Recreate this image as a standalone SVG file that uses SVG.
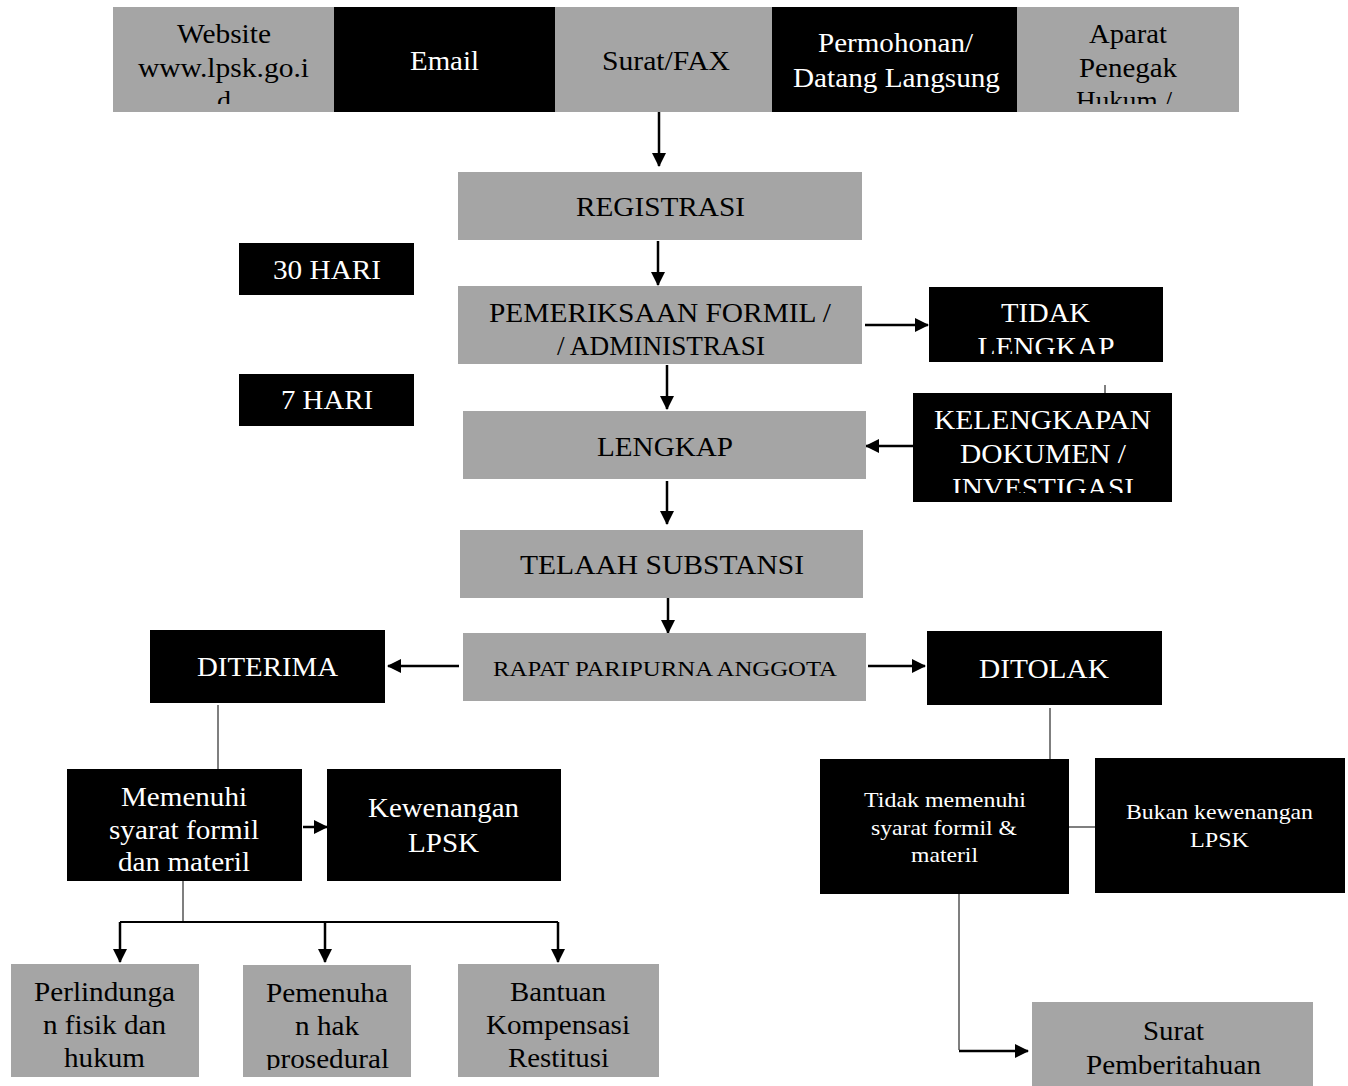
<svg xmlns="http://www.w3.org/2000/svg" width="1348" height="1086" viewBox="0 0 1348 1086">
<style>
text{font-family:"Liberation Serif","Times New Roman",serif;font-size:28px;text-anchor:middle}
.g{fill:#a5a5a5}
.b{fill:#000}
.tb{fill:#000}
.tw{fill:#fff}
.s{font-size:22px}
.xs{font-size:22px}
.arr{stroke:#000;stroke-width:2.5;fill:none}
.ln{stroke:#555;stroke-width:1.5;fill:none}
</style>
<defs>
<marker id="ahl" markerWidth="14" markerHeight="14" refX="13" refY="7" orient="auto" markerUnits="userSpaceOnUse" viewBox="0 0 14 14">
<path d="M0,0 L14,7 L0,14 z" fill="#000"/>
</marker>
<clipPath id="c1"><rect x="113" y="7" width="221" height="97"/></clipPath>
<clipPath id="c5"><rect x="1017" y="7" width="222" height="97"/></clipPath>
<clipPath id="ct"><rect x="929" y="287" width="234" height="67"/></clipPath>
<clipPath id="ck"><rect x="913" y="393" width="259" height="100"/></clipPath>
<clipPath id="cp"><rect x="243" y="965" width="168" height="105"/></clipPath>
</defs>
<g id="connectors">
<line class="arr" x1="659" y1="112" x2="659" y2="166" marker-end="url(#ahl)"/>
<line class="arr" x1="658" y1="241" x2="658" y2="285" marker-end="url(#ahl)"/>
<line class="arr" x1="865" y1="325" x2="928" y2="325" marker-end="url(#ahl)"/>
<line class="ln" x1="1105" y1="385" x2="1105" y2="393"/>
<line class="arr" x1="913" y1="446" x2="866" y2="446" marker-end="url(#ahl)"/>
<line class="arr" x1="667" y1="365" x2="667" y2="409" marker-end="url(#ahl)"/>
<line class="arr" x1="667" y1="481" x2="667" y2="524" marker-end="url(#ahl)"/>
<line class="arr" x1="668" y1="598" x2="668" y2="633" marker-end="url(#ahl)"/>
<line class="arr" x1="459" y1="666" x2="388" y2="666" marker-end="url(#ahl)"/>
<line class="arr" x1="868" y1="666" x2="925" y2="666" marker-end="url(#ahl)"/>
<line class="ln" x1="218" y1="705" x2="218" y2="769"/>
<line class="arr" x1="303" y1="827" x2="327" y2="827" marker-end="url(#ahl)"/>
<polyline class="ln" points="183,881 183,922"/>
<line class="arr" x1="120" y1="922" x2="558" y2="922" style="stroke-width:2"/>
<line class="arr" x1="120" y1="922" x2="120" y2="962" marker-end="url(#ahl)"/>
<line class="arr" x1="325" y1="922" x2="325" y2="962" marker-end="url(#ahl)"/>
<line class="arr" x1="558" y1="922" x2="558" y2="962" marker-end="url(#ahl)"/>
<line class="ln" x1="1050" y1="708" x2="1050" y2="759"/>
<line class="ln" x1="1069" y1="827" x2="1095" y2="827"/>
<polyline class="ln" points="959,894 959,1050"/>
<line class="arr" x1="959" y1="1051" x2="1028" y2="1051" marker-end="url(#ahl)"/>
</g>
<g id="website"><rect class="g" x="113" y="7" width="221" height="105"/>
<g clip-path="url(#c1)"><text class="tb" x="224" y="43" textLength="94" lengthAdjust="spacingAndGlyphs">Website</text><text class="tb" x="223.5" y="77" textLength="171" lengthAdjust="spacingAndGlyphs">www.lpsk.go.i</text><text class="tb" x="224" y="110">d</text></g></g>
<g id="email"><rect class="b" x="334" y="7" width="221" height="105"/><text class="tw" x="444.5" y="70" textLength="69" lengthAdjust="spacingAndGlyphs">Email</text></g>
<g id="surat-fax"><rect class="g" x="555" y="7" width="217" height="105"/><text class="tb" x="666" y="70" textLength="128" lengthAdjust="spacingAndGlyphs">Surat/FAX</text></g>
<g id="permohonan"><rect class="b" x="772" y="7" width="245" height="105"/><text class="tw" x="895.5" y="52" textLength="155" lengthAdjust="spacingAndGlyphs">Permohonan/</text><text class="tw" x="896.5" y="87" textLength="207" lengthAdjust="spacingAndGlyphs">Datang Langsung</text></g>
<g id="aparat"><rect class="g" x="1017" y="7" width="222" height="105"/>
<g clip-path="url(#c5)"><text class="tb" x="1128" y="43" textLength="78" lengthAdjust="spacingAndGlyphs">Aparat</text><text class="tb" x="1128" y="77" textLength="98" lengthAdjust="spacingAndGlyphs">Penegak</text><text class="tb" x="1124" y="110" textLength="96" lengthAdjust="spacingAndGlyphs">Hukum /</text></g></g>
<g id="registrasi"><rect class="g" x="458" y="172" width="404" height="68"/><text class="tb" x="660.5" y="216" textLength="169" lengthAdjust="spacingAndGlyphs">REGISTRASI</text></g>
<g id="hari30"><rect class="b" x="239" y="243" width="175" height="52"/><text class="tw" x="327" y="279" textLength="108" lengthAdjust="spacingAndGlyphs">30 HARI</text></g>
<g id="hari7"><rect class="b" x="239" y="374" width="175" height="52"/><text class="tw" x="327" y="409" textLength="92" lengthAdjust="spacingAndGlyphs">7 HARI</text></g>
<g id="pemeriksaan"><rect class="g" x="458" y="286" width="404" height="78"/><text class="tb" x="660" y="322" textLength="342" lengthAdjust="spacingAndGlyphs">PEMERIKSAAN FORMIL /</text><text class="tb" x="661" y="355" textLength="208" lengthAdjust="spacingAndGlyphs">/ ADMINISTRASI</text></g>
<g id="tidak-lengkap"><rect class="b" x="929" y="287" width="234" height="75"/>
<g clip-path="url(#ct)"><text class="tw" x="1045.5" y="322" textLength="89" lengthAdjust="spacingAndGlyphs">TIDAK</text><text class="tw" x="1046" y="356" textLength="137" lengthAdjust="spacingAndGlyphs">LENGKAP</text></g></g>
<g id="kelengkapan"><rect class="b" x="913" y="393" width="259" height="109"/>
<g clip-path="url(#ck)"><text class="tw" x="1042.5" y="429" textLength="217" lengthAdjust="spacingAndGlyphs">KELENGKAPAN</text><text class="tw" x="1043" y="463" textLength="166" lengthAdjust="spacingAndGlyphs">DOKUMEN /</text><text class="tw" x="1043" y="497" textLength="182" lengthAdjust="spacingAndGlyphs">INVESTIGASI</text></g></g>
<g id="lengkap"><rect class="g" x="463" y="411" width="403" height="68"/><text class="tb" x="665" y="456" textLength="136" lengthAdjust="spacingAndGlyphs">LENGKAP</text></g>
<g id="telaah"><rect class="g" x="460" y="530" width="403" height="68"/><text class="tb" x="662" y="574" textLength="284" lengthAdjust="spacingAndGlyphs">TELAAH SUBSTANSI</text></g>
<g id="rapat"><rect class="g" x="463" y="633" width="403" height="68"/><text class="tb s" x="665" y="676" textLength="344" lengthAdjust="spacingAndGlyphs">RAPAT PARIPURNA ANGGOTA</text></g>
<g id="diterima"><rect class="b" x="150" y="630" width="235" height="73"/><text class="tw" x="267.5" y="676" textLength="141" lengthAdjust="spacingAndGlyphs">DITERIMA</text></g>
<g id="ditolak"><rect class="b" x="927" y="631" width="235" height="74"/><text class="tw" x="1044" y="678" textLength="130" lengthAdjust="spacingAndGlyphs">DITOLAK</text></g>
<g id="memenuhi"><rect class="b" x="67" y="769" width="235" height="112"/><text class="tw" x="184" y="806" textLength="126" lengthAdjust="spacingAndGlyphs">Memenuhi</text><text class="tw" x="184" y="839" textLength="150" lengthAdjust="spacingAndGlyphs">syarat formil</text><text class="tw" x="184" y="871" textLength="132" lengthAdjust="spacingAndGlyphs">dan materil</text></g>
<g id="kewenangan"><rect class="b" x="327" y="769" width="234" height="112"/><text class="tw" x="443.5" y="817" textLength="151" lengthAdjust="spacingAndGlyphs">Kewenangan</text><text class="tw" x="443.5" y="852" textLength="71" lengthAdjust="spacingAndGlyphs">LPSK</text></g>
<g id="perlindungan"><rect class="g" x="11" y="964" width="188" height="113"/><text class="tb" x="104.5" y="1001" textLength="141" lengthAdjust="spacingAndGlyphs">Perlindunga</text><text class="tb" x="104.5" y="1034" textLength="123" lengthAdjust="spacingAndGlyphs">n fisik dan</text><text class="tb" x="104.5" y="1067" textLength="81" lengthAdjust="spacingAndGlyphs">hukum</text></g>
<g id="pemenuhan"><rect class="g" x="243" y="965" width="168" height="112"/>
<g clip-path="url(#cp)"><text class="tb" x="327" y="1002" textLength="122" lengthAdjust="spacingAndGlyphs">Pemenuha</text><text class="tb" x="327" y="1035" textLength="64" lengthAdjust="spacingAndGlyphs">n hak</text><text class="tb" x="327.5" y="1068" textLength="123" lengthAdjust="spacingAndGlyphs">prosedural</text></g></g>
<g id="bantuan"><rect class="g" x="458" y="964" width="201" height="113"/><text class="tb" x="558" y="1001" textLength="96" lengthAdjust="spacingAndGlyphs">Bantuan</text><text class="tb" x="558" y="1034" textLength="144" lengthAdjust="spacingAndGlyphs">Kompensasi</text><text class="tb" x="558.5" y="1067" textLength="101" lengthAdjust="spacingAndGlyphs">Restitusi</text></g>
<g id="tidak-memenuhi"><rect class="b" x="820" y="759" width="249" height="135"/><text class="tw xs" x="945" y="807" textLength="162" lengthAdjust="spacingAndGlyphs">Tidak memenuhi</text><text class="tw xs" x="944" y="835" textLength="146" lengthAdjust="spacingAndGlyphs">syarat formil &amp;</text><text class="tw xs" x="944.5" y="862" textLength="67" lengthAdjust="spacingAndGlyphs">materil</text></g>
<g id="bukan"><rect class="b" x="1095" y="758" width="250" height="135"/><text class="tw xs" x="1219.5" y="819" textLength="187" lengthAdjust="spacingAndGlyphs">Bukan kewenangan</text><text class="tw xs" x="1219.5" y="847" textLength="59" lengthAdjust="spacingAndGlyphs">LPSK</text></g>
<g id="surat-pemberitahuan"><rect class="g" x="1032" y="1002" width="281" height="84"/><text class="tb" x="1173.5" y="1040" textLength="61" lengthAdjust="spacingAndGlyphs">Surat</text><text class="tb" x="1173.5" y="1074" textLength="175" lengthAdjust="spacingAndGlyphs">Pemberitahuan</text></g>
</svg>
